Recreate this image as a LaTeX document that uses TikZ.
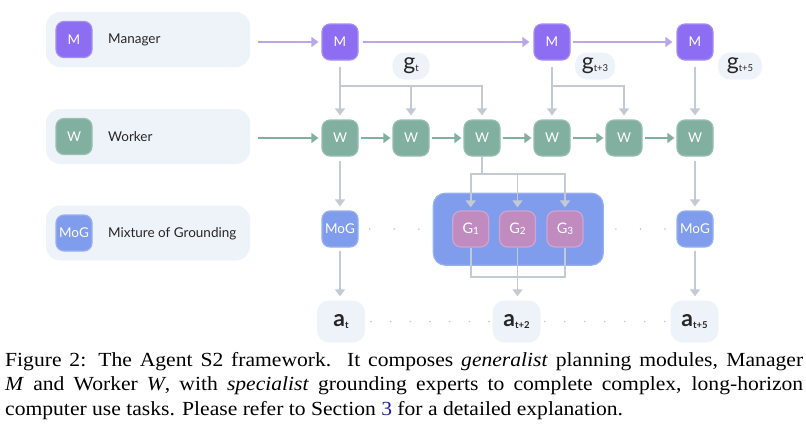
\documentclass[tikz,border=0pt]{standalone}
\usepackage{fontspec}
\setmainfont[FakeStretch=1.08]{Liberation Serif}
\newfontfamily\diag{Lato}
\usetikzlibrary{arrows.meta}
\definecolor{legbg}{HTML}{EEF2F9}
\definecolor{mgrc}{HTML}{8D6EF2}
\definecolor{mgrb}{HTML}{A58DF4}
\definecolor{wkrc}{HTML}{82B0A0}
\definecolor{wkrb}{HTML}{98BFB1}
\definecolor{mogc}{HTML}{809CEC}
\definecolor{mogb}{HTML}{98B0F0}
\definecolor{gc}{HTML}{C08CC0}
\definecolor{gb}{HTML}{D0A4D0}
\definecolor{arrc}{HTML}{C3CAD4}
\definecolor{marr}{HTML}{BBA6EC}
\definecolor{dotc}{HTML}{C2C8D0}
\definecolor{txtc}{HTML}{262626}
\definecolor{linkc}{HTML}{2020A0}
\tikzset{
  legendbg/.style={fill=legbg, rounded corners=14pt, minimum width=204pt, minimum height=55pt, inner sep=0pt},
  icon/.style={rounded corners=8pt, minimum width=36pt, minimum height=36pt, line width=1.2pt, inner sep=0pt, text=white, font=\diag\fontsize{13.5}{15}\selectfont},
  mgr/.style={icon, fill=mgrc, draw=mgrb},
  wkr/.style={icon, fill=wkrc, draw=wkrb},
  mog/.style={icon, fill=mogc, draw=mogb},
  gexp/.style={icon, fill=gc, draw=gb, font=\diag\fontsize{14.5}{15}\selectfont},
  bigbox/.style={fill=mogc, draw=mogb, line width=1.2pt, rounded corners=12pt, minimum width=170pt, minimum height=72pt, inner sep=0pt},
  legtext/.style={anchor=west, text=txtc, font=\diag\fontsize{13.5}{15}\selectfont, inner sep=0pt},
  pill/.style={fill=legbg, rounded corners=12pt, minimum height=27pt, inner sep=0pt, text=txtc},
  actbox/.style={fill=legbg, rounded corners=12pt, minimum width=48pt, minimum height=42pt, inner sep=0pt, text=txtc},
  tipx/.style={-{Triangle[width=10pt,length=7pt]}},
  garrow/.style={draw=arrc, line width=1.8pt, tipx},
  gline/.style={draw=arrc, line width=1.8pt},
  marrow/.style={draw=marr, line width=1.8pt, tipx},
  warrow/.style={draw=wkrc, line width=1.8pt, tipx},
  dotline/.style={draw=dotc, line width=1.8pt, line cap=round},
}
\newcommand{\gsym}[1]{{\diag\fontsize{23}{23}\selectfont g}{\diag\fontsize{9.5}{10}\selectfont\raisebox{-2pt}{#1}}}
\newcommand{\asym}[1]{{\diag\bfseries\fontsize{23}{23}\selectfont a}{\diag\bfseries\fontsize{9.5}{10}\selectfont\raisebox{-2pt}{#1}}}
\newcommand{\gexpl}[1]{G{\fontsize{10}{10}\selectfont\raisebox{-1pt}{#1}}}
\begin{document}
\begin{tikzpicture}[x=1pt,y=-1pt]
\useasboundingbox (0,0) rectangle (806,429);
% legend
\node[legendbg] (Lm) at (148,39.5) {};
\node[mgr] (Lmi) at (74,39.5) {M};
\node[legtext] (Lmt) at (108,40) {Manager};
\node[legendbg] (Lw) at (148,136.5) {};
\node[wkr] (Lwi) at (74,136.5) {W};
\node[legtext] (Lwt) at (108,137) {Worker};
\node[legendbg] (Lg) at (148,233) {};
\node[mog] (Lgi) at (74,233) {MoG};
\node[legtext] (Lgt) at (108,233.5) {Mixture of Grounding};
% managers
\node[mgr] (M1) at (340,42) {M};
\node[mgr] (M2) at (552,42) {M};
\node[mgr] (M3) at (695,42) {M};
% goals
\node[pill, minimum width=37pt] (g1) at (411,66) {\gsym{t}};
\node[pill, minimum width=40pt] (g2) at (595,66) {\gsym{t+3}};
\node[pill, minimum width=44pt] (g3) at (740,66) {\gsym{t+5}};
% workers
\node[wkr] (W1) at (340,138) {W};
\node[wkr] (W2) at (411,138) {W};
\node[wkr] (W3) at (482,138) {W};
\node[wkr] (W4) at (552,138) {W};
\node[wkr] (W5) at (624,138) {W};
\node[wkr] (W6) at (695,138) {W};
% grounding
\node[mog] (G0) at (340,229) {MoG};
\node[bigbox] (B) at (518.3,229.2) {};
\node[gexp] (GA) at (470.7,229) {\gexpl{1}};
\node[gexp] (GB) at (517.5,229) {\gexpl{2}};
\node[gexp] (GC) at (565,229) {\gexpl{3}};
\node[mog] (G5) at (695,229) {MoG};
% actions
\node[actbox] (A1) at (341,321.5) {\asym{t}};
\node[actbox] (A2) at (516.5,321.5) {\asym{t+2}};
\node[actbox] (A3) at (694.5,321.5) {\asym{t+5}};
% manager arrows
\draw[marrow, shorten <=8pt, shorten >=3pt] (Lm.east |- M1.west) -- (M1.west);
\draw[marrow, shorten <=4pt, shorten >=4pt] (M1) -- (M2);
\draw[marrow, shorten <=2pt, shorten >=4pt] (M2) -- (M3);
% worker arrows
\draw[warrow, shorten <=8pt, shorten >=3pt] (Lw.east |- W1.west) -- (W1.west);
\foreach \a/\b in {W1/W2,W2/W3,W3/W4,W4/W5,W5/W6}
  \draw[warrow, shorten <=2pt, shorten >=2pt] (\a) -- (\b);
% goal distribution
\coordinate (j1) at (340,86);
\draw[gline, shorten <=6pt] (M1.south) -- (j1);
\draw[garrow, shorten >=4pt] (j1) -- (W1.north);
\draw[garrow, shorten >=4pt] (j1) -| (W2.north);
\draw[garrow, shorten >=4pt] (j1) -| (W3.north);
\coordinate (j2) at (552,86);
\draw[gline, shorten <=6pt] (M2.south) -- (j2);
\draw[garrow, shorten >=4pt] (j2) -- (W4.north);
\draw[garrow, shorten >=4pt] (j2) -| (W5.north);
\draw[garrow, shorten <=6pt, shorten >=4pt] (M3.south) -- (W6.north);
% worker to grounding
\draw[garrow, shorten <=4pt, shorten >=4pt] (W1.south) -- (G0.north);
\draw[garrow, shorten <=4pt, shorten >=4pt] (W6.south) -- (G5.north);
\coordinate (j3) at (482,174);
\draw[gline] (W3.south) -- (j3);
\draw[garrow, shorten >=3pt] (j3) -| (GA.north);
\draw[garrow, shorten >=3pt] (j3) -| (GB.north);
\draw[garrow, shorten >=3pt] (j3) -| (GC.north);
% grounding to actions
\coordinate (j4) at (517.5,277);
\draw[gline] (GA.south) |- (j4) -| (GC.south);
\draw[garrow, shorten >=4pt] (GB.south) -- (GB.south |- A2.north);
\draw[garrow, shorten <=3pt, shorten >=4pt] (G0.south) -- (G0.south |- A1.north);
\draw[garrow, shorten <=3pt, shorten >=4pt] (G5.south) -- (G5.south |- A3.north);
% dotted continuations
\draw[dotline, dash pattern=on 0pt off 24.6pt, shorten <=11pt] (G0.east) -- (B.west);
\draw[dotline, dash pattern=on 0pt off 24.6pt, shorten <=12pt] (B.east) -- (G5.west);
\draw[dotline, dash pattern=on 0pt off 19.7pt, shorten <=5.7pt] (A1.east) -- (A2.west);
\draw[dotline, dash pattern=on 0pt off 20pt, shorten <=4pt] (A2.east) -- (A3.west);
% caption
\node[anchor=base west, inner sep=0pt, font=\fontsize{20}{24.5}\selectfont] (cap1) at (5,366)
  {\makebox[798pt][s]{Figure 2: The Agent S2 framework.\ \ It composes \textit{generalist} planning modules, Manager}};
\node[anchor=base west, inner sep=0pt, font=\fontsize{20}{24.5}\selectfont] (cap2) at (5,390.5)
  {\makebox[798pt][s]{\textit{M} and Worker \textit{W}, with \textit{specialist} grounding experts to complete complex, long-horizon}};
\node[anchor=base west, inner sep=0pt, font=\fontsize{20}{24.5}\selectfont] (cap3) at (5,415)
  {computer use tasks. Please refer to Section \textcolor{linkc}{3} for a detailed explanation.};
\end{tikzpicture}
\end{document}
